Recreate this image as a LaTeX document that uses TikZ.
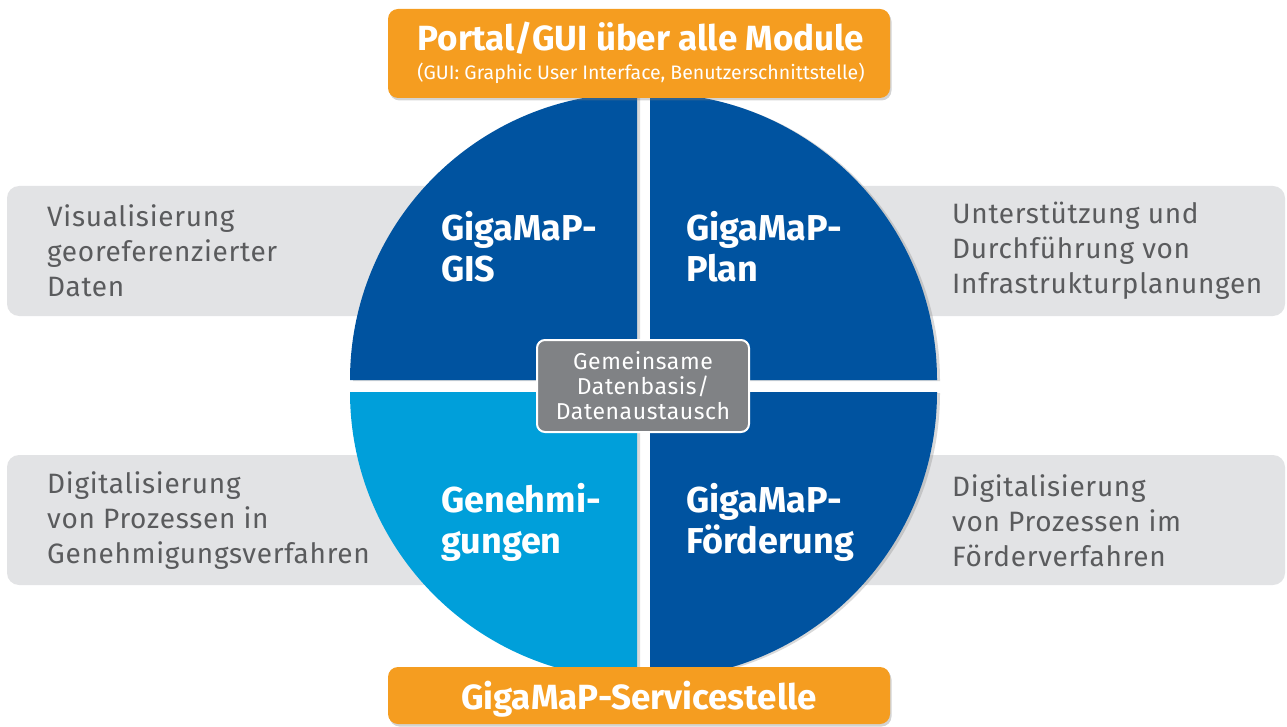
\documentclass[tikz,border=0pt]{standalone}
\usepackage{fontspec}
\setmainfont{Fira Sans}
\newfontfamily\sperrfont[LetterSpace=2.5]{Fira Sans}
\usetikzlibrary{shadows}

\definecolor{dunkelblau}{HTML}{0053A0}
\definecolor{hellblau}{HTML}{009FDA}
\definecolor{orangegelb}{HTML}{F59D20}
\definecolor{hellgrau}{HTML}{E2E3E5}
\definecolor{textgrau}{HTML}{5A5B5D}
\definecolor{mittelgrau}{HTML}{808285}

\begin{document}
\begin{tikzpicture}[x=1pt, y=-1pt,
    seitenbox/.style={fill=hellgrau, rounded corners=12pt},
    seitentext/.style={anchor=west, inner sep=0pt, align=left, text=textgrau,
      font=\sperrfont\fontsize{28}{35}\selectfont},
    modultext/.style={anchor=west, inner sep=0pt, align=left, text=white,
      font=\bfseries\fontsize{36}{41}\selectfont},
    orangebox/.style={fill=orangegelb, rounded corners=10pt, text=white, inner sep=0pt,
      minimum width=502pt, drop shadow={opacity=0.35, shadow xshift=1.5pt, shadow yshift=-2.5pt}},
    viertel/.style={drop shadow={opacity=0.3, shadow xshift=3pt, shadow yshift=-1pt}}
  ]
  \useasboundingbox (0,0) rectangle (1287,727);

  % graue Kaesten hinter dem Kreis
  \fill[seitenbox] (7,186) rectangle (440,316);
  \fill[seitenbox] (850,186) rectangle (1285,316);
  \fill[seitenbox] (7,455) rectangle (440,585);
  \fill[seitenbox] (850,455) rectangle (1285,585);

  % Texte der Kaesten
  \node[seitentext] (visual) at (47,251) {Visualisierung\\georeferenzierter\\Daten};
  \node[seitentext] (planung) at (952,251) {Unterstützung und\\Durchführung von\\Infrastrukturplanungen};
  \node[seitentext] (genverf) at (47,521) {Digitalisierung\\von Prozessen in\\Genehmigungsverfahren};
  \node[seitentext] (foerdverf) at (952,521) {Digitalisierung\\von Prozessen im\\Förderverfahren};

  % Kreis aus vier Vierteln
  \fill[dunkelblau, viertel] (637,380) -- (350,380) arc[start angle=180, end angle=270, radius=287] -- cycle;
  \fill[dunkelblau, viertel] (650,380) -- (650,93) arc[start angle=270, end angle=360, radius=287] -- cycle;
  \fill[dunkelblau, viertel] (650,392) -- (937,392) arc[start angle=0, end angle=90, radius=287] -- cycle;
  \fill[hellblau, viertel] (637,392) -- (637,679) arc[start angle=90, end angle=180, radius=287] -- cycle;

  % Module
  \node[modultext] (gis) at (441,247) {GigaMaP-\\GIS};
  \node[modultext] (plan) at (686,247) {GigaMaP-\\Plan};
  \node[modultext] (genehm) at (441,522) {Genehmi-\\gungen};
  \node[modultext] (foerd) at (686,522) {GigaMaP-\\Förderung};

  % gemeinsame Datenbasis in der Mitte
  \node[fill=mittelgrau, draw=white, line width=2pt, rounded corners=8pt,
    minimum width=212pt, minimum height=92pt, align=center, text=white,
    font=\sperrfont\fontsize{23}{25}\selectfont] (daten) at (643,386)
    {Gemeinsame\\Datenbasis/\\Datenaustausch};

  % Portal oben
  \node[orangebox, minimum height=89pt] (portal) at (639,53.5) {};
  \node[anchor=base, text=white, font=\bfseries\fontsize{35}{38}\selectfont] (portaltitel)
    at (641,51) {Portal/GUI über alle Module};
  \node[anchor=base, text=white, font=\fontsize{19.5}{22}\selectfont] (portalsub)
    at (641,80) {(GUI: Graphic User Interface, Benutzerschnittstelle)};

  % Servicestelle unten
  \node[orangebox, minimum height=57pt, text depth=0pt,
    font=\bfseries\fontsize{35}{38}\selectfont] (service) at (639,695.5) {GigaMaP-Servicestelle};
\end{tikzpicture}
\end{document}
